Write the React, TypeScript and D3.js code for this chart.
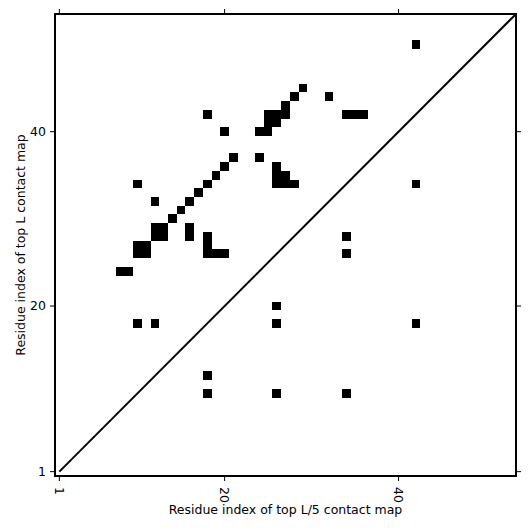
import React from 'react';
import * as d3 from 'd3';

// contacts above the diagonal (top L), as [i, j] residue pairs
const topLContacts: [number, number][] = [
  [42, 50], [29, 45], [28, 44], [32, 44], [27, 43],
  [18, 42], [25, 42], [26, 42], [27, 42], [34, 42], [35, 42], [36, 42],
  [25, 41], [26, 41],
  [20, 40], [24, 40], [25, 40],
  [21, 37], [24, 37],
  [20, 36], [26, 36],
  [19, 35], [26, 35], [27, 35],
  [10, 34], [18, 34], [26, 34], [27, 34], [28, 34],
  [17, 33], [12, 32], [16, 32], [15, 31], [14, 30],
  [12, 29], [13, 29], [16, 29],
  [12, 28], [13, 28], [16, 28], [18, 28],
  [10, 27], [11, 27], [18, 27],
  [10, 26], [11, 26], [18, 26], [19, 26], [20, 26],
  [8, 24], [9, 24],
  [10, 18], [12, 18],
];

// contacts below the diagonal (top L/5)
const topL5Contacts: [number, number][] = [
  [42, 34], [34, 28], [34, 26], [26, 20], [26, 18], [42, 18],
  [18, 12], [18, 10], [26, 10], [34, 10],
];

const tickValues = [1, 20, 40];
const residueRange = [0.5, 53.5];
const xLabel = 'Residue index of top L/5 contact map';
const yLabel = 'Residue index of top L contact map';

const W = 531;
const H = 531;
const left = 55;
const right = 516;
const top = 14;
const bottom = 476;
const font = 'DejaVu Sans, sans-serif';

const App = () => {
  const x = d3.scaleLinear().domain(residueRange).range([left, right]);
  const y = d3.scaleLinear().domain(residueRange).range([bottom, top]);

  const cells = topLContacts.concat(topL5Contacts);
  const diag = d3.line<number>()
    .x((d) => x(d))
    .y((d) => y(d));

  return (
    <svg width={W} height={H} style={{ position: 'absolute', left: 0, top: 0 }}
      fontFamily={font}>
      <rect x={0} y={0} width={W} height={H} fill="#fff" />
      <defs>
        <clipPath id="plot">
          <rect x={left} y={top} width={right - left} height={bottom - top} />
        </clipPath>
      </defs>
      <g clipPath="url(#plot)">
        {cells.map(([i, j], k) => (
          <rect key={k}
            x={x(i - 0.5)} y={y(j + 0.5)}
            width={x(i + 0.5) - x(i - 0.5)}
            height={y(j - 0.5) - y(j + 0.5)}
            fill="#000" shapeRendering="crispEdges" />
        ))}
        <path d={diag([1, residueRange[1]]) || ''} stroke="#000" strokeWidth={2} fill="none" />
      </g>

      {/* ticks on all four sides, labels only left and bottom */}
      {tickValues.map((t) => (
        <g key={'x' + t}>
          <line x1={x(t)} x2={x(t)} y1={bottom} y2={bottom + 5} stroke="#000" />
          <line x1={x(t)} x2={x(t)} y1={top} y2={top - 5} stroke="#000" />
          <text transform={`translate(${x(t)},${bottom + 11}) rotate(90)`}
            dy="0.35em" fontSize={12.5} fill="#000">{t}</text>
        </g>
      ))}
      {tickValues.map((t) => (
        <g key={'y' + t}>
          <line x1={left} x2={left - 5} y1={y(t)} y2={y(t)} stroke="#000" />
          <line x1={right} x2={right + 5} y1={y(t)} y2={y(t)} stroke="#000" />
          <text x={left - 9} y={y(t)} dy="0.35em" textAnchor="end"
            fontSize={12.5} fill="#000">{t}</text>
        </g>
      ))}

      <rect x={left} y={top} width={right - left} height={bottom - top}
        fill="none" stroke="#000" strokeWidth={2} />

      <text x={(left + right) / 2} y={514} textAnchor="middle" fontSize={12.5} fill="#000">
        {xLabel}
      </text>
      <text transform={`translate(25,${(top + bottom) / 2}) rotate(-90)`}
        textAnchor="middle" fontSize={12.5} fill="#000">
        {yLabel}
      </text>
    </svg>
  );
};

export default App;
